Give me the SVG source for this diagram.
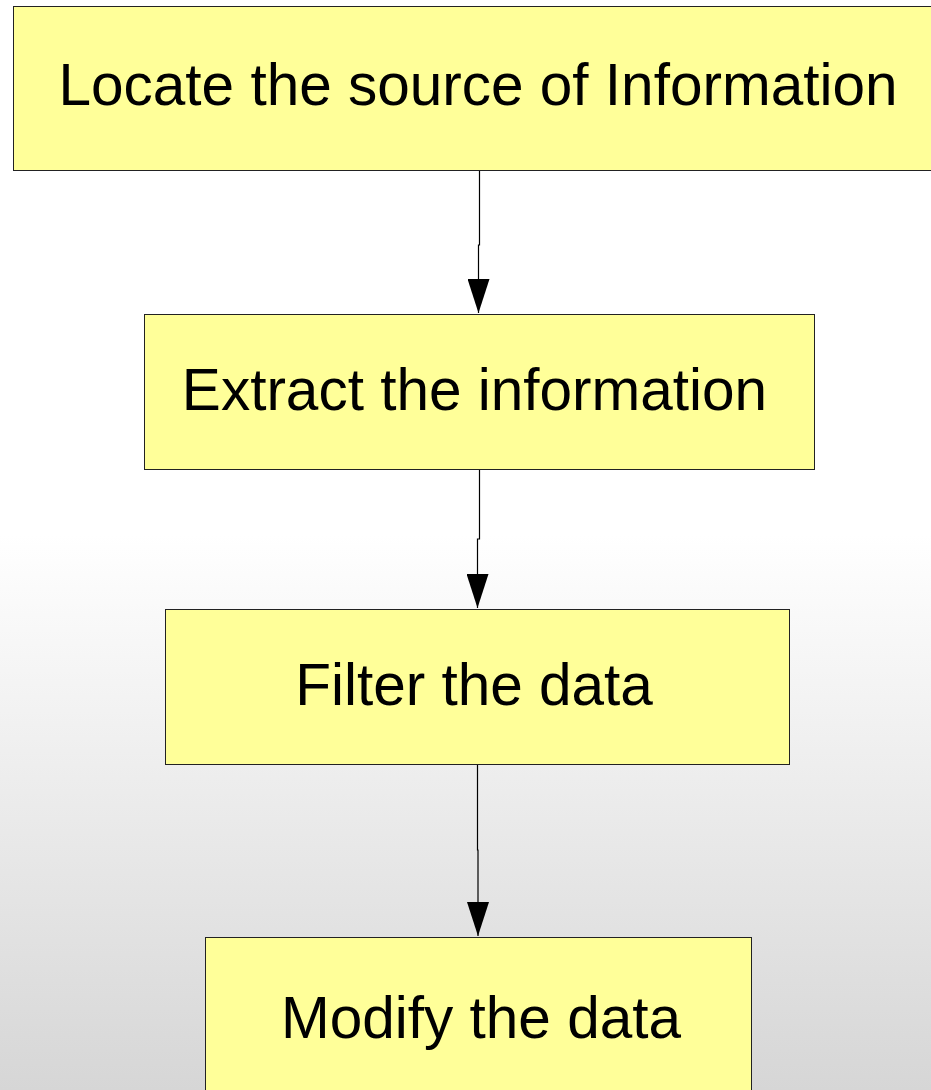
<svg xmlns="http://www.w3.org/2000/svg" width="931" height="1090" viewBox="0 0 931 1090">
<defs>
<linearGradient id="bg" x1="0" y1="0" x2="0" y2="1090" gradientUnits="userSpaceOnUse">
<stop offset="0" stop-color="#ffffff"/>
<stop offset="0.49" stop-color="#ffffff"/>
<stop offset="1" stop-color="#d6d6d6"/>
</linearGradient>
<marker id="arr" markerWidth="34" markerHeight="22" refX="34" refY="11" orient="auto" markerUnits="userSpaceOnUse" viewBox="0 0 34 22">
<path d="M0,0 L34,11 L0,22 Z" fill="#000"/>
</marker>
</defs>
<style>
.box{fill:#ffff99;stroke:#222;stroke-width:1}
.lbl{font-family:"Liberation Sans",Arial,sans-serif;font-size:58.5px;fill:#000;text-anchor:middle}
.con{fill:none;stroke:#000;stroke-width:1.2}
</style>
<rect x="0" y="0" width="931" height="1090" fill="url(#bg)"/>
<g id="connectors">
<path class="con" d="M479.5,170.5 V245 H478.5 V313" marker-end="url(#arr)"/>
<path class="con" d="M479.5,469.5 V539 H477.5 V608" marker-end="url(#arr)"/>
<path class="con" d="M477.5,764.5 V850 H478 V936" marker-end="url(#arr)"/>
</g>
<g id="n1">
<rect class="box" x="13.5" y="6.5" width="935" height="164"/>
<text class="lbl" x="478" y="105">Locate the source of Information</text>
</g>
<g id="n2">
<rect class="box" x="144.5" y="314.5" width="670" height="155"/>
<text class="lbl" x="474.5" y="410">Extract the information</text>
</g>
<g id="n3">
<rect class="box" x="165.5" y="609.5" width="624" height="155"/>
<text class="lbl" x="474" y="705">Filter the data</text>
</g>
<g id="n4">
<rect class="box" x="205.5" y="937.5" width="546" height="160"/>
<text class="lbl" x="481" y="1038">Modify the data</text>
</g>
</svg>
